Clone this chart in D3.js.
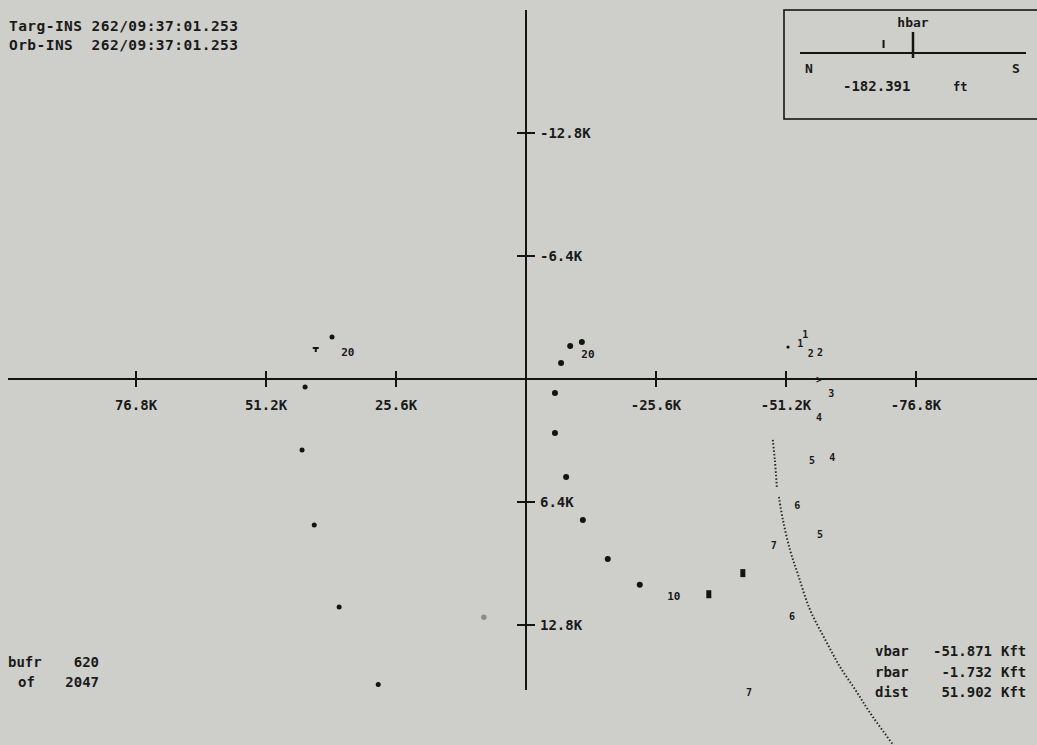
<!DOCTYPE html>
<html><head><meta charset="utf-8">
<script src="https://cdn.jsdelivr.net/npm/d3@7"></script>
<style>
html,body{margin:0;padding:0;background:#cecfca;}
svg{display:block;}
text{font-family:"DejaVu Sans Mono",monospace;fill:#1a1a1a;font-weight:bold;}
</style></head><body>
<svg id="c" width="1037" height="745"></svg>
<script>
// ---- data (K ft) ----
const xTicks = [76.8, 51.2, 25.6, -25.6, -51.2, -76.8];
const xTickLabels = ["76.8K", "51.2K", "25.6K", "-25.6K", "-51.2K", "-76.8K"];
const yTicks = [-12.8, -6.4, 6.4, 12.8];
const yTickLabels = ["-12.8K", "-6.4K", "6.4K", "12.8K"];

// central trajectory (vbar, rbar)
const centerV = [-6.9, -8.7, -11.0, -5.7, -5.7, -7.9, -11.2, -16.1, -22.4];
const centerR = [-0.83, -1.72, -1.93, 0.73, 2.81, 5.1, 7.34, 9.37, 10.7];
const centerBarV = [-36.0, -42.7];
const centerBarR = [11.2, 10.1];
const centerLabelV = [-12.2, -29.1];
const centerLabelR = [-1.3, 11.3];
const centerLabels = ["20", "10"];

// left trajectory
const leftV = [38.2, 43.5, 44.1, 41.7, 36.8, 29.1];
const leftR = [-2.19, 0.42, 3.69, 7.6, 11.86, 15.9];
const leftPlusV = [41.4];
const leftPlusR = [-1.56];
const leftLabelV = [35.1];
const leftLabelR = [-1.4];
const leftLabels = ["20"];
const grayV = [8.3];
const grayR = [12.4];

// right numbered markers
const rightDotV = [-51.6];
const rightDotR = [-1.66];
const rightMarkV = [-54.0, -55.0, -56.1, -57.9, -57.7, -60.1, -57.7, -56.3, -60.3, -53.4, -57.9, -48.8, -52.4, -43.9];
const rightMarkR = [-1.87, -2.34, -1.35, -1.4, 0.0, 0.73, 1.98, 4.21, 4.06, 6.56, 8.06, 8.64, 12.33, 16.3];
const rightMarkLabels = ["1", "1", "2", "2", ">", "3", "4", "5", "4", "6", "5", "7", "6", "7"];

// dotted curve (two segments)
const curveAV = [-48.6, -49.0, -49.4];
const curveAR = [3.17, 4.21, 5.62];
const curveBV = [-49.8, -50.6, -52.0, -53.6, -55.9, -58.9, -61.8, -64.8, -67.7, -72.3];
const curveBR = [6.14, 7.34, 8.90, 10.2, 11.99, 13.55, 14.96, 16.15, 17.35, 19.04];

// text readouts
const headerLines = ["Targ-INS 262/09:37:01.253", "Orb-INS  262/09:37:01.253"];
const bufLines = [["bufr", "620"], ["of", "2047"]];
const readoutNames = ["vbar", "rbar", "dist"];
const readoutValues = ["-51.871", "-1.732", "51.902"];
const readoutUnit = "Kft";
const hbarValue = -182.391;
const hbarDomain = [-700, 700];

// ---- drawing ----
const svg = d3.select("#c");
const x = d3.scaleLinear().domain([102.4, -102.4]).range([6, 1046]);
const y = d3.scaleLinear().domain([-19.2, 19.2]).range([10, 748]);
const ink = "#141414";

// axes
svg.append("line").attr("x1", 8).attr("x2", 1037).attr("y1", y(0)).attr("y2", y(0))
  .attr("stroke", ink).attr("stroke-width", 2);
svg.append("line").attr("x1", x(0)).attr("x2", x(0)).attr("y1", 10).attr("y2", 690)
  .attr("stroke", ink).attr("stroke-width", 2);

xTicks.forEach((t, i) => {
  svg.append("line").attr("x1", x(t)).attr("x2", x(t)).attr("y1", y(0) - 8).attr("y2", y(0) + 8)
    .attr("stroke", ink).attr("stroke-width", 2);
  svg.append("text").attr("x", x(t)).attr("y", y(0) + 31).attr("text-anchor", "middle")
    .attr("font-size", 14).text(xTickLabels[i]);
});
yTicks.forEach((t, i) => {
  svg.append("line").attr("x1", x(0) - 9).attr("x2", x(0) + 9).attr("y1", y(t)).attr("y2", y(t))
    .attr("stroke", ink).attr("stroke-width", 2);
  svg.append("text").attr("x", x(0) + 14).attr("y", y(t) + 5)
    .attr("font-size", 14).text(yTickLabels[i]);
});

// dotted curve
const line = d3.line().x((d) => x(d[0])).y((d) => y(d[1])).curve(d3.curveCatmullRom);
[[curveAV, curveAR], [curveBV, curveBR]].forEach(([vs, rs]) => {
  svg.append("path").datum(vs.map((v, i) => [v, rs[i]])).attr("d", line)
    .attr("fill", "none").attr("stroke", "#2a2a2a").attr("stroke-width", 2)
    .attr("stroke-dasharray", "1.5,2");
});

// dots
function dots(vs, rs, r, col) {
  svg.selectAll(null).data(vs.map((v, i) => [v, rs[i]])).enter().append("circle")
    .attr("cx", (d) => x(d[0])).attr("cy", (d) => y(d[1])).attr("r", r).attr("fill", col);
}
dots(centerV, centerR, 3, ink);
dots(leftV, leftR, 2.5, ink);
dots(rightDotV, rightDotR, 1.6, ink);
dots(grayV, grayR, 2.7, "#8c8c86");

svg.selectAll(null).data(centerBarV.map((v, i) => [v, centerBarR[i]])).enter().append("rect")
  .attr("x", (d) => x(d[0]) - 2.5).attr("y", (d) => y(d[1]) - 4).attr("width", 5).attr("height", 8)
  .attr("fill", ink);

svg.selectAll(null).data(leftPlusV.map((v, i) => [v, leftPlusR[i]])).enter().append("path")
  .attr("d", (d) => `M${x(d[0]) - 3},${y(d[1]) - 1}h6M${x(d[0])},${y(d[1]) - 1}v4`)
  .attr("stroke", ink).attr("stroke-width", 2);

function labels(vs, rs, ls, size) {
  svg.selectAll(null).data(vs.map((v, i) => [v, rs[i], ls[i]])).enter().append("text")
    .attr("x", (d) => x(d[0])).attr("y", (d) => y(d[1]) + size * 0.36)
    .attr("text-anchor", "middle").attr("font-size", size)
    .text((d) => d[2]);
}
labels(centerLabelV, centerLabelR, centerLabels, 11);
labels(leftLabelV, leftLabelR, leftLabels, 11);
labels(rightMarkV, rightMarkR, rightMarkLabels, 10);

// header text
headerLines.forEach((t, i) => {
  svg.append("text").attr("x", 9).attr("y", 31 + i * 19).attr("font-size", 14.5)
    .attr("textLength", 229).attr("lengthAdjust", "spacing")
    .style("white-space", "pre").text(t);
});

// buffer text
bufLines.forEach((p, i) => {
  svg.append("text").attr("x", i === 0 ? 8 : 18).attr("y", 667 + i * 20).attr("font-size", 14).text(p[0]);
  svg.append("text").attr("x", 99).attr("y", 667 + i * 20).attr("font-size", 14)
    .attr("text-anchor", "end").text(p[1]);
});

// readouts
readoutNames.forEach((n, i) => {
  const yy = 656 + i * 20.5;
  svg.append("text").attr("x", 875).attr("y", yy).attr("font-size", 14).text(n);
  svg.append("text").attr("x", 992).attr("y", yy).attr("font-size", 14)
    .attr("text-anchor", "end").text(readoutValues[i]);
  svg.append("text").attr("x", 1001).attr("y", yy).attr("font-size", 14).text(readoutUnit);
});

// hbar box
const box = svg.append("g");
box.append("rect").attr("x", 784).attr("y", 10).attr("width", 262).attr("height", 109)
  .attr("fill", "none").attr("stroke", ink).attr("stroke-width", 1.6);
const hx = d3.scaleLinear().domain(hbarDomain).range([800, 1026]);
box.append("line").attr("x1", hx.range()[0]).attr("x2", hx.range()[1]).attr("y1", 53).attr("y2", 53)
  .attr("stroke", ink).attr("stroke-width", 2);
box.append("line").attr("x1", hx(0)).attr("x2", hx(0)).attr("y1", 32).attr("y2", 58)
  .attr("stroke", ink).attr("stroke-width", 2.5);
box.append("line").attr("x1", hx(hbarValue)).attr("x2", hx(hbarValue)).attr("y1", 40).attr("y2", 48)
  .attr("stroke", ink).attr("stroke-width", 2);
box.append("text").attr("x", hx(0)).attr("y", 27).attr("text-anchor", "middle").attr("font-size", 13).attr("font-weight", "normal").text("hbar");
box.append("text").attr("x", 809).attr("y", 73).attr("text-anchor", "middle").attr("font-size", 13).text("N");
box.append("text").attr("x", 1016).attr("y", 73).attr("text-anchor", "middle").attr("font-size", 13).text("S");
box.append("text").attr("x", 843).attr("y", 91).attr("font-size", 14).text(hbarValue.toFixed(3));
box.append("text").attr("x", 953).attr("y", 91).attr("font-size", 12).text("ft");
</script>
</body></html>
